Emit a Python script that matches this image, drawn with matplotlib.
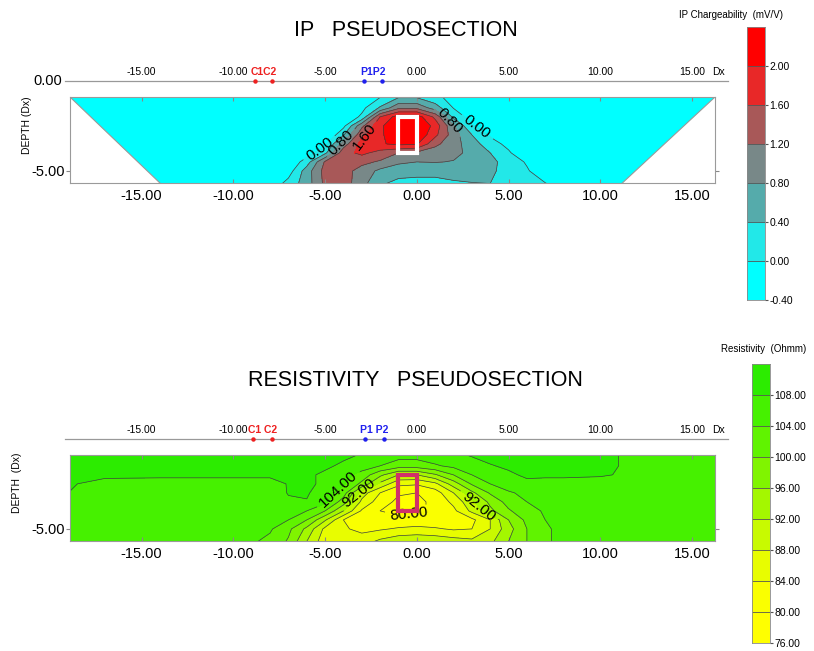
import numpy as np
import matplotlib
matplotlib.use('Agg')
import matplotlib.pyplot as plt
from matplotlib.patches import Rectangle, Polygon

plt.rcParams['font.family'] = ['Liberation Sans', 'DejaVu Sans']

# ---------------- data ----------------
x_nodes = [-19, -17, -14, -10, -8, -7, -6, -5, -4, -3, -2, -1, 0, 1, 2, 3, 4, 5, 6, 7, 8, 10, 12, 16.5]
depth_nodes = [-0.9, -1.5, -2.0, -2.5, -3.0, -3.5, -4.0, -4.5, -5.0, -5.7]

ip_d09 = [-.5]*8 + [-.4, -.2, -.02, .35, .35, .1, -.15, -.4, -.5, -.5, -.5, -.5, -.5, -.5, -.5, -.5]
ip_d15 = [-.5]*8 + [-.45, -.12, .45, 1.1, 1.1, .6, -.02, -.25, -.45, -.5, -.5, -.5, -.5, -.5, -.5, -.5]
ip_d20 = [-.5]*8 + [-.35, .08, 1.6, 2.2, 2.2, 1.5, .3, -.2, -.45, -.5, -.5, -.5, -.5, -.5, -.5, -.5]
ip_d25 = [-.5]*7 + [-.45] + [-.12, 1.1, 1.9, 2.45, 2.45, 1.85, .85, .05, -.25, -.45, -.5, -.5, -.5, -.5, -.5, -.5]
ip_d30 = [-.5]*8 + [.35, 1.5, 1.9, 2.4, 2.35, 1.7, 1.0, .4, -.05, -.3, -.5, -.5, -.5, -.5, -.5, -.5]
ip_d35 = [-.5]*6 + [-.45, -.1] + [1.0, 1.75, 1.95, 2.1, 2.05, 1.3, .95, .6, .15, -.1, -.35, -.5, -.5, -.5, -.5, -.5]
ip_d40 = [-.5]*6 + [-.2, .3] + [1.45, 1.7, 1.45, 1.2, 1.1, 1.0, .9, .7, .4, .05, -.3, -.5, -.5, -.5, -.5, -.5]
ip_d45 = [-.5]*5 + [-.35, .2, 1.25] + [1.45, 1.3, 1.15, .88, .8, .82, .78, .72, .5, .25, -.05, -.35, -.5, -.5, -.5, -.5]
ip_d50 = [-.5]*5 + [-.2, .6, 1.35] + [1.35, 1.05, .7, .55, .5, .5, .55, .6, .45, .3, .05, -.3, -.5, -.5, -.5, -.5]
ip_d57 = [-.5]*4 + [-.3, .15, .6, 1.3] + [1.4, .95, .45, .3, .3, .3, .35, .38, .4, .35, .2, .02, -.2, -.5, -.5, -.5]

res_d09 = [109, 109, 109, 109, 109, 109, 109, 109, 108.6, 107.8, 106.5, 105.5, 105.5, 106.5, 107.5, 108.2, 109, 109, 109, 109, 109, 109, 107, 107]
res_d15 = [109, 109, 109, 109, 109, 109, 109, 108.5, 107.5, 106, 104, 102, 102, 103.5, 105, 107, 107.8, 108.5, 109, 109, 109, 109, 107, 107]
res_d20 = [109, 109, 109, 109, 109, 108.7, 108.5, 107.5, 105.5, 102.5, 97, 92, 92, 95.5, 100, 104, 106, 107.5, 108.5, 109, 109, 108.5, 107, 107]
res_d25 = [108.5, 106.5, 106, 106, 106, 108.3, 108.5, 107.5, 104.5, 99, 91, 85, 84.5, 87, 94, 100.5, 104, 106, 107.3, 106, 106, 106, 106, 106]
res_d30 = [108, 106, 106, 106, 106, 108.2, 108.4, 106, 102, 90, 84, 80.5, 80, 82, 88, 95, 100.5, 103.5, 105, 106, 106, 106, 106, 106]
res_d35 = [106.5, 106, 106, 106, 106, 107.5, 107.8, 105, 98, 87, 82, 79, 79, 81, 85, 91, 97, 101.5, 104, 105.5, 106, 106, 106, 106]
res_d40 = [106, 106, 106, 106, 106, 105.5, 104, 100, 92, 83.5, 80, 79, 79.5, 80.5, 83, 89, 95, 99.5, 102.5, 104.5, 105.5, 106, 106, 106]
res_d45 = [106, 106, 106, 106, 105.5, 104, 100, 92.5, 84, 81, 80.5, 81, 81.5, 81, 81, 83, 88, 96, 101, 104, 105.5, 106, 106, 106]
res_d50 = [106, 106, 106, 106, 104.5, 101, 95, 87, 84.5, 83, 83.5, 84.5, 85, 84.5, 83.5, 84, 88, 94.5, 100, 103.5, 105, 106, 106, 106]
res_d57 = [106, 106, 106, 106, 103, 99.5, 92, 85.5, 84, 86, 89, 91, 91.5, 91, 90, 89, 91, 96, 100, 103.5, 105, 106, 106, 106]

ip_levels = [-0.4, 0.0, 0.4, 0.8, 1.2, 1.6, 2.0, 2.4]
ip_ticks = [-0.4, 0.0, 0.4, 0.8, 1.2, 1.6, 2.0]
res_levels = [76, 80, 84, 88, 92, 96, 100, 104, 108, 112]
res_ticks = [76, 80, 84, 88, 92, 96, 100, 104, 108]
x_ticks = [-15, -10, -5, 0, 5, 10, 15]

ip_current = [-8.8, -7.9]
ip_potential = [-2.9, -1.9]
res_current = [-8.9, -7.9]
res_potential = [-2.8, -1.8]

ip_label_pos = {0.0: [(-5.2, -3.9), (3.2, -2.7)], 0.8: [(-3.8, -3.85), (1.6, -2.4)], 1.6: [(-2.8, -3.2)]}
res_label_pos = {104: [(-4.2, -2.9)], 92: [(-3.2, -2.9), (3.3, -3.8)], 80: [(-0.5, -3.75)]}

ip_colors = ['#00FFFF', '#22E8E8', '#55ABAB', '#788888', '#A85858', '#E82828', '#FF0000']
res_colors = ['#FFFF00', '#FAFF00', '#E8FD00', '#C8FA00', '#A4F700', '#80F400', '#60F300', '#46F100', '#2CEC00']

# ---------------- figure ----------------
W, H = 814, 651
fig = plt.figure(figsize=(W / 100, H / 100), dpi=100)

XMIN, XMAX = -18.9, 16.25
YMIN, YMAX = -5.67, -0.9
X, Y = np.meshgrid(x_nodes, depth_nodes)
ip_Z = np.array([ip_d09, ip_d15, ip_d20, ip_d25, ip_d30, ip_d35, ip_d40, ip_d45, ip_d50, ip_d57])
res_Z = np.array([res_d09, res_d15, res_d20, res_d25, res_d30, res_d35, res_d40, res_d45, res_d50, res_d57])


def panel(box_top_px, levels, colors, Z, label_pos, current, potential, show_zero,
          cur_lbl, pot_lbl, rect_color, blank):
    ax = fig.add_axes([70 / W, (H - (box_top_px + 86)) / H, 645 / W, 86 / H])
    fill_levels = [-1000] + levels[1:-1] + [1000]
    ax.contourf(X, Y, Z, levels=fill_levels, colors=colors)
    line_levels = [lv for lv in levels[1:-1] if lv not in label_pos]
    ax.contour(X, Y, Z, levels=line_levels, colors='#404040', linewidths=0.5)
    ax.set_xlim(XMIN, XMAX)
    ax.set_ylim(YMIN, YMAX)
    for lv, pos in label_pos.items():
        cs = ax.contour(X, Y, Z, levels=[lv], colors='#404040', linewidths=0.5)
        ax.clabel(cs, manual=pos, fmt='%.2f', fontsize=11, inline=True, colors='black')
    ax.set_xlim(XMIN, XMAX)
    ax.set_ylim(YMIN, YMAX)
    if blank:
        ax.add_patch(Polygon([(XMIN, YMAX), (-14.0, YMIN), (-25, YMIN), (-25, YMAX)],
                             facecolor='white', edgecolor='none', zorder=2.2))
        ax.add_patch(Polygon([(XMAX, YMAX), (11.2, YMIN), (25, YMIN), (25, YMAX)],
                             facecolor='white', edgecolor='none', zorder=2.2))
        ax.plot([XMIN, -14.0], [YMAX, YMIN], color='#999999', lw=0.8, zorder=2.3)
        ax.plot([XMAX, 11.2], [YMAX, YMIN], color='#999999', lw=0.8, zorder=2.3)
    ax.add_patch(Rectangle((-1, -4), 1, 2, fill=False, edgecolor=rect_color, lw=3, zorder=5))
    for s in ax.spines.values():
        s.set_color('#9a9a9a')
        s.set_linewidth(0.8)
    ax.set_xticks(x_ticks)
    ax.set_xticklabels(['%.2f' % v for v in x_ticks], fontsize=10.5)
    ax.tick_params(axis='x', direction='in', top=True, bottom=True, length=3, color='#888888', pad=4)
    ax.set_yticks([-5])
    ax.set_yticklabels(['-5.00'], fontsize=10.5)
    ax.tick_params(axis='y', direction='out', left=True, right=True, length=3, color='#888888', pad=1)
    # top reference line with small tick labels
    ax.plot([-19.17, 16.96], [0, 0], color='#999999', lw=0.9, clip_on=False)
    for v in x_ticks:
        ax.text(v, 0.47, '%.2f' % v, ha='center', va='center', fontsize=7.5, clip_on=False)
    ax.text(16.45, 0.47, 'Dx', ha='center', va='center', fontsize=7.5, clip_on=False)
    if show_zero:
        ax.text(-19.33, 0, '0.00', ha='right', va='center', fontsize=10.5, clip_on=False)
    ax.plot(current, [0, 0], 'o', ms=2.2, color='#ee2020', clip_on=False)
    ax.plot(potential, [0, 0], 'o', ms=2.2, color='#2020ee', clip_on=False)
    ax.text(np.mean(current), 0.47, cur_lbl, ha='center', va='center', fontsize=7.5,
            color='#ee2020', fontweight='bold', clip_on=False)
    ax.text(np.mean(potential), 0.47, pot_lbl, ha='center', va='center', fontsize=7.5,
            color='#2020ee', fontweight='bold', clip_on=False)
    return ax


def colorbar(left_px, top_px, bottom_px, levels, colors, ticks, title, title_xy):
    cax = fig.add_axes([left_px / W, (H - bottom_px) / H, 18 / W, (bottom_px - top_px) / H])
    for i, c in enumerate(colors):
        cax.add_patch(Rectangle((0, levels[i]), 1, levels[i + 1] - levels[i],
                                facecolor=c, edgecolor='none'))
    cax.hlines(levels[1:-1], 0, 1, color='#555555', lw=0.6)
    cax.set_xlim(0, 1)
    cax.set_ylim(levels[0], levels[-1])
    cax.set_xticks([])
    cax.yaxis.tick_right()
    cax.set_yticks(ticks)
    cax.set_yticklabels(['%.2f' % t for t in ticks], fontsize=7.5)
    cax.tick_params(axis='y', length=2, pad=1, color='#555555')
    for s in cax.spines.values():
        s.set_color('#888888')
        s.set_linewidth(0.6)
    fig.text(title_xy[0] / W, 1 - title_xy[1] / H, title, ha='center', va='center', fontsize=7)


panel(97, ip_levels, ip_colors, ip_Z, ip_label_pos, ip_current, ip_potential, True,
      'C1C2', 'P1P2', 'white', True)
panel(455, res_levels, res_colors, res_Z, res_label_pos, res_current, res_potential, False,
      'C1 C2', 'P1 P2', '#D0306A', False)

fig.text(406 / W, 1 - 30 / H, 'IP   PSEUDOSECTION', ha='center', va='center', fontsize=15.5)
fig.text(415 / W, 1 - 381 / H, 'RESISTIVITY   PSEUDOSECTION', ha='center', va='center', fontsize=15.5)
fig.text(27 / W, 1 - 125 / H, 'DEPTH (Dx)', rotation=90, ha='center', va='center', fontsize=7.5)
fig.text(17 / W, 1 - 483 / H, 'DEPTH  (Dx)', rotation=90, ha='center', va='center', fontsize=7.5)

colorbar(747, 27, 300, ip_levels, ip_colors, ip_ticks, 'IP Chargeability  (mV/V)', (731, 15))
colorbar(752, 364, 643, res_levels, res_colors, res_ticks, 'Resistivity  (Ohmm)', (764, 349))

fig.savefig('out.png', dpi=100)
